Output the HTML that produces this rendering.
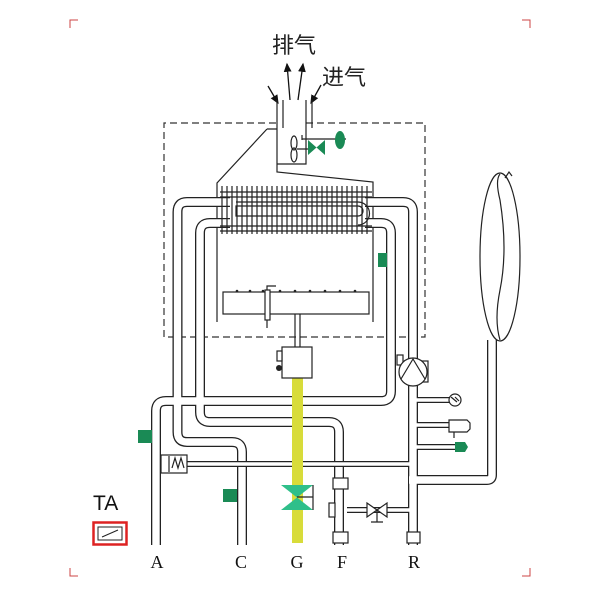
<!DOCTYPE html>
<html><head><meta charset="utf-8"><style>html,body{margin:0;padding:0;background:#fff}svg{display:block}</style></head><body>
<svg width="600" height="600" viewBox="0 0 600 600" xmlns="http://www.w3.org/2000/svg" font-family="Liberation Serif, serif">
<g stroke="#c44" stroke-width="1" fill="none">
<path d="M70 28V20H78M522 20H530V28M70 568V576H78M530 568V576H522"/>
</g>
<text x="272" y="53" font-size="22" font-family="Liberation Sans, Noto Sans CJK SC, sans-serif" fill="#222">排气</text>
<text x="322" y="85" font-size="22" font-family="Liberation Sans, Noto Sans CJK SC, sans-serif" fill="#222">进气</text>
<defs><marker id="ar" markerWidth="8" markerHeight="8" refX="6" refY="4" orient="auto"><path d="M0 1L7 4L0 7z" fill="#111"/></marker></defs>
<g stroke="#111" stroke-width="1.3" fill="none" marker-end="url(#ar)">
<line x1="290" y1="100" x2="287" y2="64"/><line x1="298" y1="100" x2="303" y2="64"/>
<line x1="268" y1="86" x2="278" y2="103"/><line x1="321" y1="85" x2="311" y2="103"/>
</g>
<path d="M306 123H425V337H164V123H277" fill="none" stroke-dasharray="7 4" stroke="#333" stroke-width="1.2"/>
<g stroke="#222" stroke-width="1.2" fill="none">
<path d="M277 100V172L373 182V322M283 100V128M312 100V128M306 100V164H277M267 129H277M267 129L217 183V322"/>
</g>
<!-- pipes -->
<g fill="none" stroke-linejoin="round">
<g stroke="#222" stroke-width="10">
<path d="M230 202H187Q177.5 202 177.5 212V432Q177.5 442 187 442H232Q242 442 242 452V545"/>
<path d="M230 223H210Q200 223 200 233V412Q200 422 210 422H329Q339 422 339 432V545"/>
<path d="M365 223H381Q391 223 391 233V391Q391 401 381 401H166Q156 401 156 411V545"/>
<path d="M365 202H403Q413 202 413 212V545"/>
<path d="M418 480H487Q492 480 492 475V340"/>
</g>
<g stroke="#fff" stroke-width="7.4">
<path d="M230 202H187Q177.5 202 177.5 212V432Q177.5 442 187 442H232Q242 442 242 452V546"/>
<path d="M230 223H210Q200 223 200 233V412Q200 422 210 422H329Q339 422 339 432V546"/>
<path d="M365 223H381Q391 223 391 233V391Q391 401 381 401H166Q156 401 156 411V546"/>
<path d="M365 202H403Q413 202 413 212V546"/>
<path d="M409 480H487Q492 480 492 475V336"/>
</g>
<g stroke="#222" stroke-width="6"><path d="M187 464H409M418 400H450M418 425H450M418 447H455M347 510H409"/></g>
<g stroke="#fff" stroke-width="3.5"><path d="M186 464H410M416 400H450M416 425H450M416 447H455M346 510H410"/></g>
</g>
<!-- heat exchanger -->
<g stroke="#222" stroke-width="1.2" fill="none">
<path d="M222 186V234M227 186V234M232 186V234M237 186V234M242 186V234M247 186V234M252 186V234M257 186V234M262 186V234M267 186V234M272 186V234M277 186V234M282 186V234M287 186V234M292 186V234M297 186V234M302 186V234M307 186V234M312 186V234M317 186V234M322 186V234M327 186V234M332 186V234M337 186V234M342 186V234M347 186V234M352 186V234M357 186V234M362 186V234M367 186V234"/>
<path d="M220 192H372M220 197H372M220 226H372M220 231H372"/>
<path d="M236 206H358A5 5 0 0 1 358 216H236Z"/>
<path d="M236 202H358A11.5 11.5 0 0 1 358 225"/>
</g>
<!-- burner -->
<g stroke="#222" stroke-width="1.2" fill="#fff">
<rect x="223" y="292" width="146" height="22"/>
<path d="M295 314V347M300 314V347" fill="none"/>
<rect x="265" y="290" width="5" height="30"/>
<path d="M267 290V286H276M267 320V328" fill="none"/>
</g>
<g fill="#222"><circle cx="237" cy="291" r="1.3"/><circle cx="250" cy="291" r="1.3"/><circle cx="263" cy="291" r="1.3"/><circle cx="280" cy="291" r="1.3"/><circle cx="295" cy="291" r="1.3"/><circle cx="310" cy="291" r="1.3"/><circle cx="325" cy="291" r="1.3"/><circle cx="340" cy="291" r="1.3"/><circle cx="355" cy="291" r="1.3"/></g>
<!-- fan & air valve -->
<g stroke="#222" stroke-width="1.2" fill="none">
<ellipse cx="294" cy="143" rx="3" ry="7"/><ellipse cx="294" cy="155" rx="3" ry="7"/>
<path d="M297 149H310M302 139H346M302 135V140"/>
</g>
<path d="M308 140L325 155V140L308 155Z" fill="#1a8a55"/>
<ellipse cx="340" cy="140" rx="5" ry="9" fill="#1a8a55"/>
<rect x="378" y="253" width="9" height="14" fill="#1a8a55"/>
<!-- gas -->
<rect x="292" y="377" width="11" height="166" fill="#d8dc3a"/>
<g stroke="#222" stroke-width="1.2" fill="#fff">
<rect x="282" y="347" width="30" height="31"/>
<rect x="277" y="351" width="5" height="10"/>
</g>
<circle cx="279" cy="368" r="3" fill="#222"/>
<path d="M281 485L313 485L281 510L313 510Z" fill="#2fbf8a"/>
<path d="M297 497H313M313 485V510" stroke="#222" stroke-width="1.2"/>
<!-- sensors -->
<rect x="138" y="430" width="14" height="13" fill="#1a8a55"/>
<rect x="223" y="489" width="14" height="13" fill="#1a8a55"/>
<g stroke="#222" stroke-width="1.2" fill="#fff">
<rect x="161" y="455" width="26" height="18"/>
<path d="M169 456V472M172 468L175 458L178 468L181 458L184 468" fill="none"/>
<rect x="333" y="478" width="15" height="11"/><rect x="333" y="532" width="15" height="11"/>
<rect x="329" y="503" width="6" height="14"/>
<rect x="407" y="532" width="13" height="11"/>
<path d="M367 503L387 517V503L367 517Z"/><path d="M377 510V522M371 522H383" fill="none"/>
<rect x="405" y="361" width="23" height="21"/>
<rect x="397" y="355" width="6" height="10"/>
<circle cx="413" cy="372" r="14"/>
<path d="M401 379L413 359L425 379" fill="none"/>
<circle cx="455" cy="400" r="6"/><path d="M451 397L457 402M455 397L459 401" fill="none"/>
<path d="M449 420H467L470 423V429L467 432H449Z"/><path d="M454 432V438" fill="none"/>
<ellipse cx="500" cy="257" rx="20" ry="84"/>
<path d="M500 174Q495 180 500 200Q508 250 500 290Q494 320 500 340" fill="none"/>
<path d="M505 178L509 172L512 176" fill="none"/>
</g>
<path d="M455 442H465L468 447L465 452H455Z" fill="#1a8a55"/>
<g font-size="18" fill="#111" text-anchor="middle">
<text x="157" y="568">A</text><text x="241" y="568">C</text><text x="297" y="568">G</text><text x="342" y="568">F</text><text x="414" y="568">R</text>
</g>
<text x="93" y="510" font-size="21" font-family="Liberation Sans, sans-serif" fill="#111">TA</text>
<rect x="93.5" y="522.5" width="33" height="22" fill="#fff" stroke="#d22" stroke-width="2.5"/>
<rect x="98" y="527" width="24" height="13" fill="none" stroke="#222" stroke-width="1"/>
<path d="M102 537L118 530" stroke="#222" stroke-width="1"/>
</svg>
</body></html>
